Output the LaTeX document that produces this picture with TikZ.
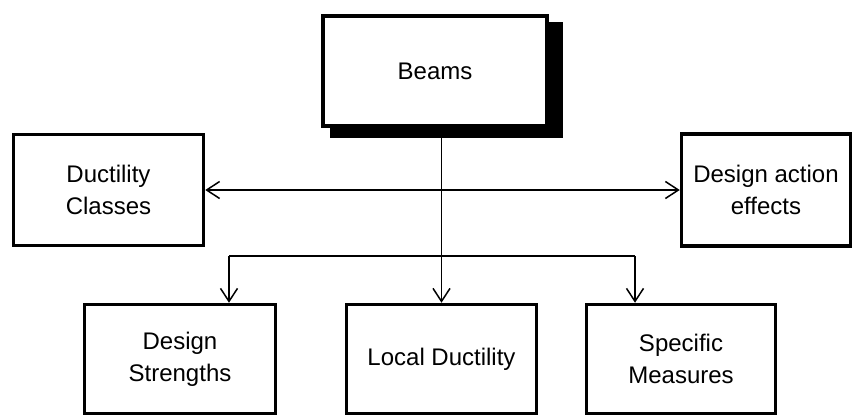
\documentclass[tikz,border=0pt]{standalone}
\usepackage{fontspec}
\setmainfont{Liberation Sans}
\usetikzlibrary{arrows.meta}
\begin{document}
\begin{tikzpicture}[x=1pt,y=-1pt,
  box/.style={draw=black, line width=3.5pt, fill=white, align=center, inner sep=0pt,
    font=\fontsize{24}{32}\selectfont},
  link/.style={line width=1.5pt},
  tip/.style={-{Straight Barb[length=13pt,width=17pt,line width=1.5pt]}},
  bothtips/.style={{Straight Barb[length=13pt,width=17pt,line width=1.5pt]}-{Straight Barb[length=13pt,width=17pt,line width=1.5pt]}}]
\useasboundingbox (0,0) rectangle (861,418);

% drop shadow of the top box
\fill[black] (330,22) rectangle (563,138);

% boxes
\node[box, line width=4.5pt, minimum width=224pt, minimum height=110pt] (beams) at (435,71) {Beams};
\node[box, minimum width=190pt, minimum height=111pt] (ductility) at (108.5,190) {Ductility\\Classes};
\node[box, minimum width=169pt, minimum height=112pt] (actions) at (766,190) {Design action\\effects};
\node[box, minimum width=191pt, minimum height=109pt] (strengths) at (180,359) {Design\\Strengths};
\node[box, minimum width=190pt, minimum height=109pt] (local) at (441.5,359) {Local Ductility};
\node[box, minimum width=189pt, minimum height=109pt] (specific) at (681,359) {Specific\\Measures};

% branch points of the lower connector
\coordinate (bl) at (229,256);
\coordinate (br) at (635,256);

% connectors
\draw[link, bothtips] (ductility.east) -- (actions.west);
\draw[link, tip] (beams.south -| local.north) -- (local.north);
\draw[link] (bl) -- (br);
\draw[link, tip] (bl) -- (bl |- strengths.north);
\draw[link, tip] (br) -- (br |- specific.north);
\end{tikzpicture}
\end{document}
